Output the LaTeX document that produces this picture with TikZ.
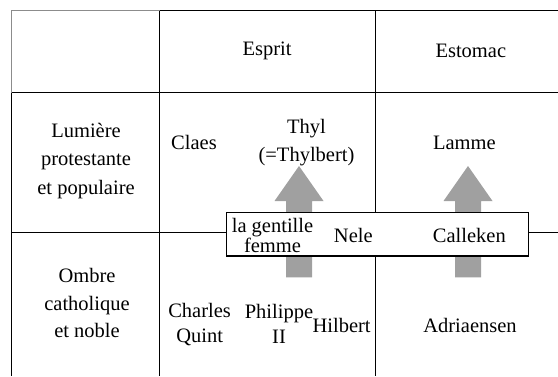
\documentclass[tikz,border=0pt]{standalone}
\usepackage{fontspec}
\setmainfont{Liberation Serif}
\definecolor{rulegray}{HTML}{8C8C8C}
\definecolor{arrowgray}{HTML}{A0A0A0}
\tikzset{
  rule/.style={line width=1.4bp, black},
  softrule/.style={line width=1.2bp, rulegray},
  lbl/.style={inner sep=0pt, align=center, font=\fontsize{20.5bp}{#1}\selectfont},
  lbl/.default={27bp},
  blockarrow/.style={fill=arrowgray, draw=none},
  namebox/.style={draw=black, line width=1.4bp, fill=white, inner sep=0pt}
}
\begin{document}
\begin{tikzpicture}[x=1bp,y=-1bp]
  \useasboundingbox (0,0) rectangle (558,376);

  % table grid
  \draw[softrule] (11.5,92.5) -- (11.5,10.5) -- (159.5,10.5);
  \draw[rule] (159.5,10.5) -- (558,10.5);
  \draw[rule] (11.5,92.5) -- (11.5,376);
  \draw[rule] (11.5,92.5) -- (558,92.5);
  \draw[rule] (11.5,232.5) -- (558,232.5);
  \draw[rule] (159.5,10.5) -- (159.5,376);
  \draw[rule] (375.5,10.5) -- (375.5,376);

  % upward block arrows (Esprit and Estomac columns)
  \foreach \cx in {299,468}{
    \fill[blockarrow] (\cx-13,277.3) -- (\cx-13,201) -- (\cx-24.5,201) -- (\cx,166)
      -- (\cx+24.5,201) -- (\cx+13,201) -- (\cx+13,277.3) -- cycle;
  }

  % box over the middle line
  \node[namebox, minimum width=301.6bp, minimum height=43.3bp] (nelebox) at (377.5,234.35) {};

  % column headers
  \node[lbl] (esprit) at (267,51) {Esprit};
  \node[lbl] (estomac) at (470.8,51) {Estomac};

  % row headers
  \node[lbl={28.5bp}] (lumiere) at (86,160.7) {Lumière\\protestante\\et populaire};
  \node[lbl={27.3bp}] (ombre) at (87,303.2) {Ombre\\catholique\\et noble};

  % upper row
  \node[lbl] (claes) at (194,142.7) {Claes};
  \node[lbl={28bp}] (thyl) at (306.5,142.5) {Thyl\\(=Thylbert)};
  \node[lbl] (lamme) at (464.4,142.7) {Lamme};

  % names in the box
  \node[lbl={20bp}] (gentille) at (272.5,235) {la gentille\\femme};
  \node[lbl] (nele) at (353.3,235) {Nele};
  \node[lbl] (calleken) at (469.3,235) {Calleken};

  % lower row
  \node[lbl={25bp}] (charles) at (199.6,324.3) {Charles\\Quint};
  \node[lbl={25bp}] (philippe) at (279,324.3) {Philippe\\II};
  \node[lbl] (hilbert) at (341.6,325.4) {Hilbert};
  \node[lbl] (adriaensen) at (470,325.4) {Adriaensen};
\end{tikzpicture}
\end{document}
